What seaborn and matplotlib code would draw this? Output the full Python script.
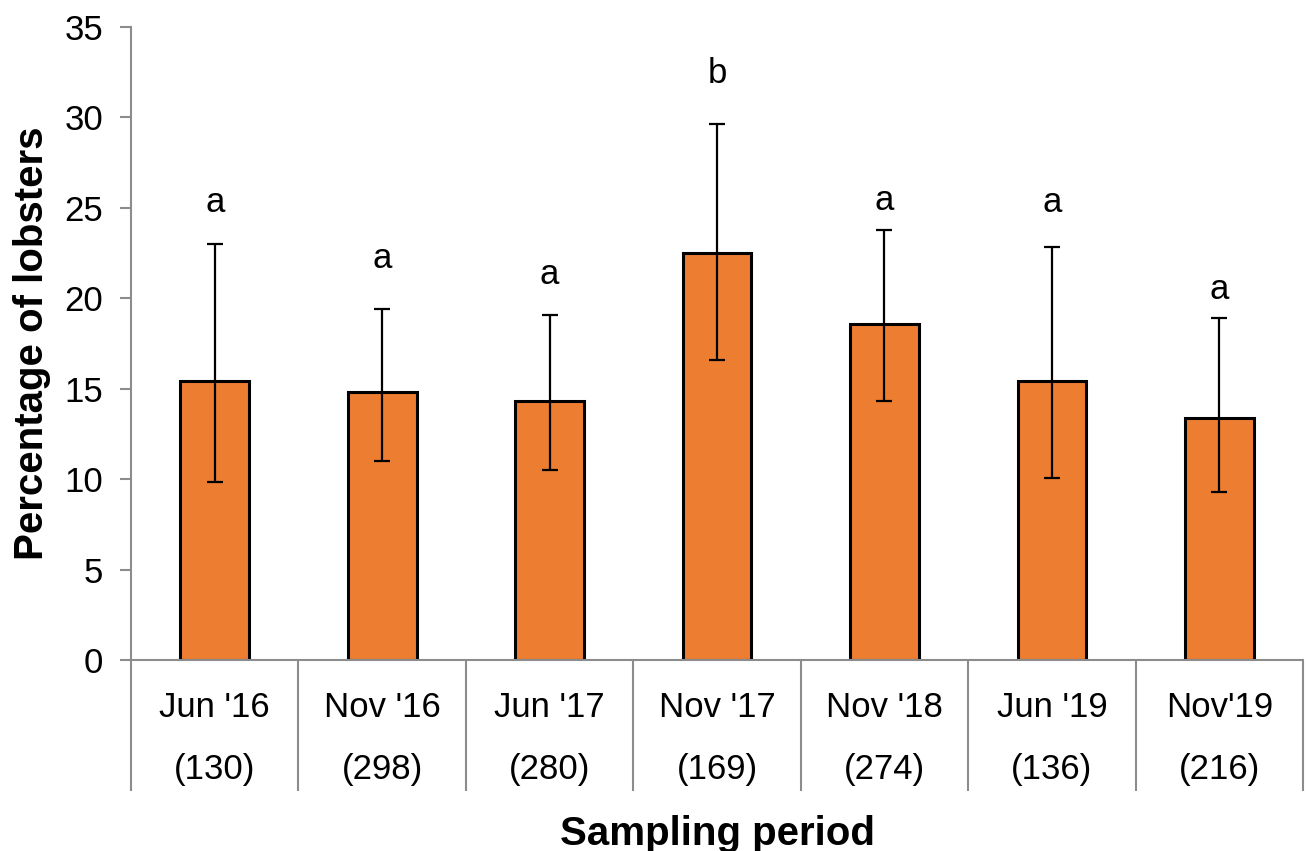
import numpy as np
import pandas as pd
import seaborn as sns
import matplotlib.pyplot as plt

# values
periods = ["Jun '16", "Nov '16", "Jun '17", "Nov '17", "Nov '18", "Jun '19", "Nov'19"]
counts = [130, 298, 280, 169, 274, 136, 216]
pct = [15.4, 14.8, 14.3, 22.5, 18.6, 15.4, 13.4]
err_low = [9.85, 11.0, 10.5, 16.6, 14.3, 10.05, 9.3]
err_high = [23.0, 19.4, 19.07, 29.65, 23.8, 22.85, 18.9]
letters = ["a", "a", "a", "b", "a", "a", "a"]
letter_y = [25.3, 22.2, 21.3, 32.4, 25.4, 25.3, 20.5]

sns.set_style("ticks")
plt.rcParams['font.family'] = ['Liberation Sans', 'DejaVu Sans']
plt.rcParams['text.color'] = 'black'
plt.rcParams['axes.labelcolor'] = 'black'
plt.rcParams['xtick.labelcolor'] = 'black'
plt.rcParams['ytick.labelcolor'] = 'black'

df = pd.DataFrame({"period": [p + "\n(" + str(n) + ")" for p, n in zip(periods, counts)],
                   "pct": pct})

fig = plt.figure(figsize=(13.08, 8.51), dpi=100)
ax = fig.add_axes([0.1002, 0.2245, 0.8960, 0.7438])

sns.barplot(data=df, x="period", y="pct", color="#ED7D31", saturation=1,
            edgecolor="black", linewidth=2.2, width=0.41, ax=ax, errorbar=None)

vals = np.array(pct)
yerr = [vals - np.array(err_low), np.array(err_high) - vals]
ax.errorbar(np.arange(len(pct)), vals, yerr=yerr, fmt="none", ecolor="black",
            elinewidth=1.6, capsize=6, capthick=1.6, zorder=5)

for i, (t, y) in enumerate(zip(letters, letter_y)):
    ax.text(i, y, t, ha="center", va="center", fontsize=25, color="black")

ax.set_ylim(0, 35)
ax.set_xlim(-0.5, len(pct) - 0.5)
ax.set_yticks(np.arange(0, 36, 5))

gray = "#8c8c8c"
for s in ["top", "right"]:
    ax.spines[s].set_visible(False)
for s in ["left", "bottom"]:
    ax.spines[s].set_color(gray)
    ax.spines[s].set_linewidth(1.5)

ax.tick_params(axis="y", labelsize=25, length=8, width=1.5, color=gray, pad=12)
ax.tick_params(axis="x", which="major", labelsize=25, length=0, pad=22)
for lab in ax.get_xticklabels():
    lab.set_linespacing(2.15)
ax.set_xticks(np.arange(-0.5, len(pct)), minor=True)
ax.tick_params(axis="x", which="minor", length=94, width=1.5, color=gray, direction="out")

ax.set_ylabel("Percentage of lobsters", fontsize=29, fontweight="bold", labelpad=10)
ax.set_xlabel("Sampling period", fontsize=29, fontweight="bold", labelpad=14)

fig.savefig("out.png", dpi=100)
